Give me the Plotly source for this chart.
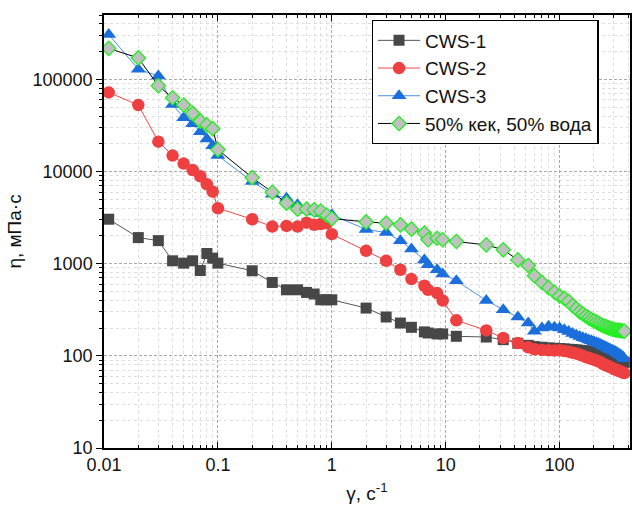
import plotly.graph_objects as go

# shear rate, 1/s
x_low = [0.011, 0.02, 0.03, 0.04, 0.05, 0.06, 0.07, 0.08, 0.09, 0.1,
         0.2, 0.3, 0.4, 0.5, 0.6, 0.7, 0.8, 0.9, 1.0,
         2.0, 3.0, 4.0, 5.0, 6.5, 7.0, 8.4, 9.4, 12.4, 22.7, 32, 43, 53]
x_high = [60, 70, 80, 90, 100, 110, 120, 130, 140, 150, 160, 170, 180, 190, 200, 210,
          220, 230, 240, 250, 260, 270, 280, 290, 300, 310, 320, 330, 340, 350, 360, 370]

cws1_low = [3040, 1920, 1780, 1075, 1014, 1075, 843, 1290, 1150, 1014,
            838, 626, 521, 521, 488, 469, 406, 406, 406,
            330, 264, 227, 204, 182, 177, 173, 173, 163, 160, 150, 137, 130]
cws1_high = [126, 124, 122, 121, 120, 119, 118, 117, 116, 115, 114, 113, 112, 111, 110, 108,
             107, 105, 104, 102, 100, 98, 97, 95, 93, 92, 90, 89, 88, 87, 86, 85]

cws2_low = [72300, 52700, 21100, 14900, 12200, 10400, 8890, 7280, 6050, 4000,
            3040, 2530, 2570, 2530, 2790, 2640, 2700, 2750, 2090,
            1380, 1075, 859, 681, 576, 521, 480, 399, 243, 189, 156, 138, 124]
cws2_high = [118, 116, 115, 114, 115, 113, 111, 108, 106, 103, 100, 97, 95, 93, 91, 89,
             87, 85, 82, 80, 78, 77, 75, 74, 72, 71, 70, 69, 68, 67, 66, 65]

cws3_low = [307000, 129000, 109000, 53500, 38400, 33000, 27100, 22500, 19100, 14900,
            7780, 5680, 5140, 4350, 3800, 3650, 3500, 3350, 3400,
            2350, 2180, 1770, 1440, 1100, 972, 859, 771, 653, 399, 316, 264, 227]
cws3_high = [185, 200, 210, 205, 200, 192, 184, 175, 168, 162, 157, 153, 149, 146, 142, 139,
             136, 133, 129, 126, 123, 120, 117, 115, 113, 111, 108, 105, 103, 100, 97, 93]

mix_low = [217000, 171000, 85300, 63200, 52700, 42800, 35300, 32000, 29200, 17300,
           8590, 5970, 4540, 3910, 3910, 3840, 3720, 3360, 3090,
           2840, 2760, 2640, 2370, 2150, 1820, 1890, 1820, 1740, 1600, 1415, 1100, 955]
mix_high = [740, 626, 550, 490, 445, 420, 390, 350, 325, 300, 285, 270, 258, 248, 240, 232,
            225, 219, 213, 209, 205, 201, 198, 195, 193, 191, 190, 189, 188, 187, 186, 185]

names = ["CWS-1", "CWS-2", "CWS-3", "50% кек, 50% вода"]
x_all = x_low + x_high
series = [cws1_low + cws1_high, cws2_low + cws2_high, cws3_low + cws3_high, mix_low + mix_high]

styles = [
    dict(line=dict(color="#555555", width=1),
         marker=dict(symbol="square", size=11, color="#474747", line=dict(width=0))),
    dict(line=dict(color="#f04848", width=1),
         marker=dict(symbol="circle", size=12.5, color="#ee4040", line=dict(width=0))),
    dict(line=dict(color="#4a90e8", width=1),
         marker=dict(symbol="triangle-up", size=13, color="#1a6fdc", line=dict(width=0))),
    dict(line=dict(color="#000000", width=1),
         marker=dict(symbol="diamond", size=11, color="#c0c0c0", line=dict(width=1.3, color="#22ee22"))),
]

fig = go.Figure()
for n, y, s in zip(names, series, styles):
    fig.add_trace(go.Scatter(x=x_all, y=y, mode="lines+markers", name=n, **s))

fam = "Liberation Sans, Arial, sans-serif"
font = dict(family=fam, size=18, color="#111111")

grid_major = dict(showgrid=True, gridcolor="#a8a8a8", griddash="3px,2px", gridwidth=1)
grid_minor = dict(showgrid=True, gridcolor="#dedede", griddash="dot", gridwidth=1)

fig.update_layout(
    width=632, height=511,
    margin=dict(l=104, r=0, t=15, b=63),
    paper_bgcolor="white", plot_bgcolor="white",
    font=font,
    showlegend=True,
    legend=dict(x=0.509, y=0.988, xanchor="left", yanchor="top",
                bgcolor="white", bordercolor="#000000", borderwidth=1.3,
                font=dict(family=fam, size=19, color="#111111"),
                itemwidth=42, tracegroupgap=0),
    xaxis=dict(type="log", range=[-2, 2.618], dtick=1, exponentformat="none",
               showline=True, linecolor="#000000", linewidth=1.5, mirror="ticks",
               ticks="inside", ticklen=6, tickcolor="#000000",
               tickfont=dict(family=fam, size=18, color="#111111"),
               minor=dict(dtick="D1", ticks="inside", ticklen=3, tickcolor="#000000", **grid_minor),
               title=dict(text="γ, с<sup>-1</sup>", standoff=12,
                          font=dict(family=fam, size=19, color="#111111")),
               zeroline=False, **grid_major),
    yaxis=dict(type="log", range=[1, 5.699], dtick=1, tickformat="d",
               showline=True, linecolor="#000000", linewidth=1.5, mirror=True,
               ticks="outside", ticklen=6, tickcolor="#000000",
               tickfont=dict(family=fam, size=18, color="#111111"),
               minor=dict(dtick="D1", ticks="outside", ticklen=3, tickcolor="#000000", **grid_minor),
               title=dict(text="η, мПа·с", standoff=6,
                          font=dict(family=fam, size=19, color="#111111")),
               zeroline=False, **grid_major),
)

fig.write_html("out.html")
